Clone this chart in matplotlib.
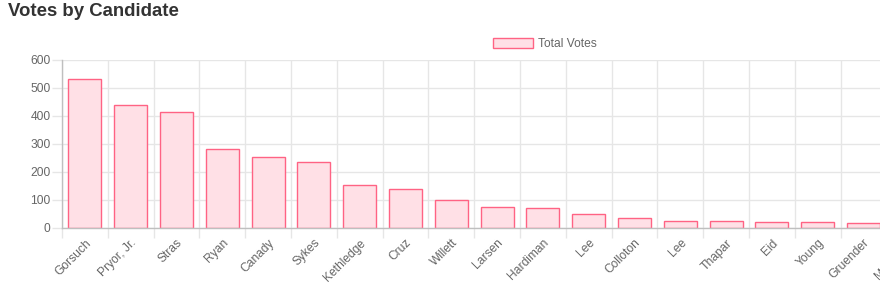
import numpy as np
import matplotlib
matplotlib.use("Agg")
import matplotlib.pyplot as plt
from matplotlib.patches import Patch

# values
candidates = ["Gorsuch", "Pryor, Jr.", "Stras", "Ryan", "Canady", "Sykes",
              "Kethledge", "Cruz", "Willett", "Larsen", "Hardiman", "Lee",
              "Colloton", "Lee", "Thapar", "Eid", "Young", "Gruender",
              "Mansfield"]
votes = [531, 438, 413, 282, 253, 236, 155, 139, 100, 75, 71, 50,
         36, 25, 25, 21, 21, 18, 15]
y_ticks = [0, 100, 200, 300, 400, 500, 600]

FILL = "#ffe0e6"
EDGE = "#ff6384"
GRID = "#e6e6e6"
ZERO = "#bfbfbf"
TXT = "#666666"
FS = 8.64  # 12px at 100 dpi
PX = 0.72  # one pixel in points

W, H = 880, 285
fig = plt.figure(figsize=(W / 100, H / 100), dpi=100)
fig.patch.set_facecolor("white")

cat_w = 45.8
left_px, zero_px, top_px = 62, 228, 60
ax = fig.add_axes([left_px / W, (H - zero_px) / H,
                   cat_w * len(candidates) / W, (zero_px - top_px) / H])

x = np.arange(len(candidates))
ax.bar(x, votes, width=0.72, color=FILL, edgecolor=EDGE, linewidth=1, zorder=3)

ax.set_xlim(-0.5, len(candidates) - 0.5)
ax.set_ylim(0, 600)

# category labels
ax.set_xticks(x)
ax.set_xticklabels(candidates, rotation=45, ha="right", va="top",
                   rotation_mode="anchor", fontsize=FS, color=TXT,
                   family="Liberation Sans")
ax.tick_params(axis="x", which="major", length=0, pad=9 * PX)

# vertical grid at category boundaries, sticking out below as ticks
ax.set_xticks(np.arange(len(candidates) + 1) - 0.5, minor=True)
ax.tick_params(axis="x", which="minor", length=10 * PX, width=1, color=GRID)
ax.grid(axis="x", which="minor", color=GRID, linewidth=1, zorder=0)
ax.xaxis.get_minor_ticks()[0].tick1line.set_color(ZERO)

ax.set_yticks(y_ticks)
ax.set_yticklabels([str(v) for v in y_ticks], fontsize=FS, color=TXT,
                   family="Liberation Sans")
ax.tick_params(axis="y", length=10 * PX, width=1, color=GRID, pad=1)
ax.grid(axis="y", color=GRID, linewidth=1, zorder=0)
ax.yaxis.get_major_ticks()[0].tick1line.set_color(ZERO)

for s in ["top", "right"]:
    ax.spines[s].set_visible(False)
for s in ["left", "bottom"]:
    ax.spines[s].set_color(ZERO)
    ax.spines[s].set_linewidth(1)
    ax.spines[s].set_zorder(4)

# legend
handle = Patch(facecolor=FILL, edgecolor=EDGE, linewidth=1)
fig.legend([handle], ["Total Votes"], loc="center",
           bbox_to_anchor=(545 / W, 1 - 44 / H), frameon=False,
           handlelength=3.33, handleheight=1.0, handletextpad=0.45,
           prop={"family": "Liberation Sans", "size": FS},
           labelcolor=TXT)

fig.text(8 / W, 1 - 16 / H, "Votes by Candidate", fontsize=13.4,
         fontweight="bold", color="#333333", family="Liberation Sans",
         va="baseline", ha="left")

fig.savefig("out.png", dpi=100)
